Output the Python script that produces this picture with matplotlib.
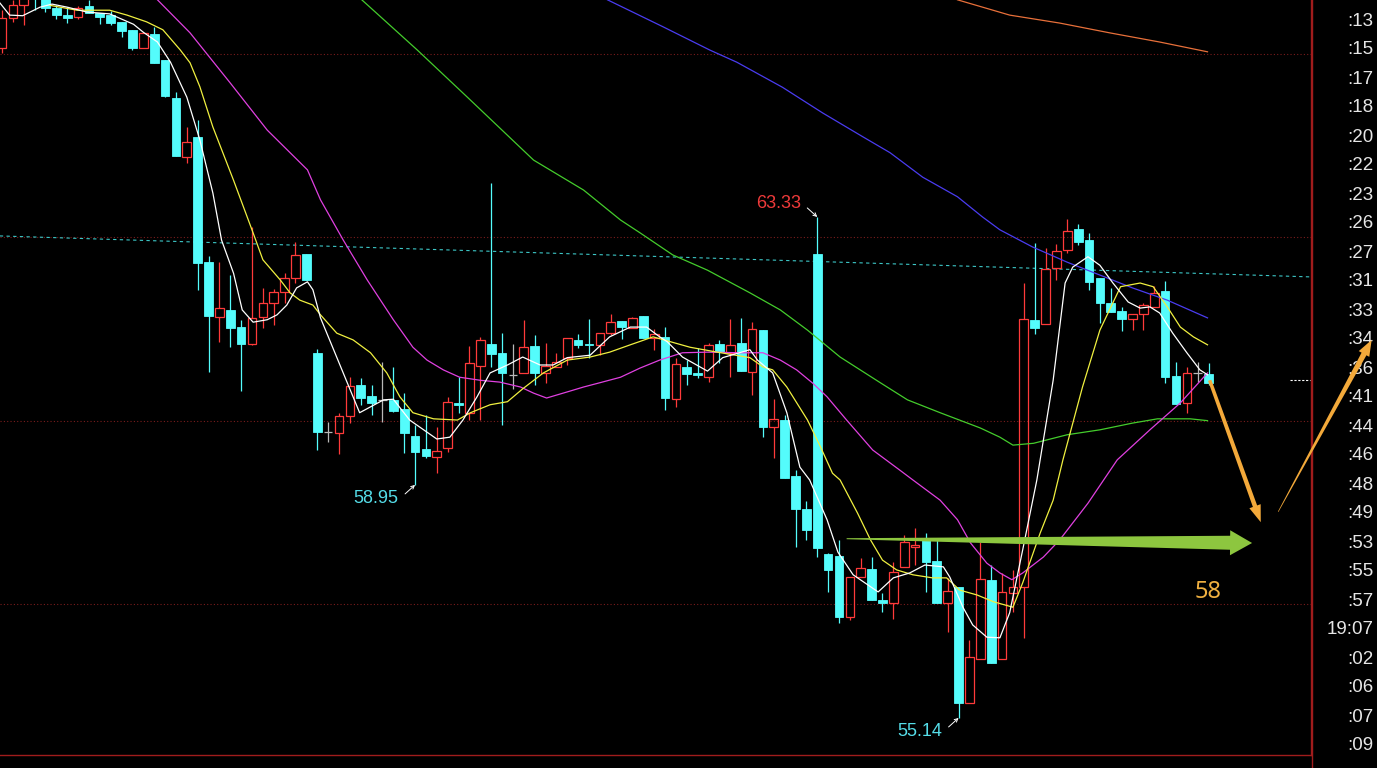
import numpy as np
import matplotlib
matplotlib.use("Agg")
import matplotlib.pyplot as plt
from matplotlib.patches import Rectangle, Polygon
from matplotlib.transforms import IdentityTransform

# ---------------- data ----------------
opens = [66.09, 66.58, 66.79, 67.29, 66.91, 66.75, 66.63, 66.60, 66.78, 66.66,
         66.63, 66.52, 66.39, 66.09, 66.32, 65.90, 65.28, 64.31, 64.64, 62.59,
         61.69, 61.81, 61.53, 61.25, 61.69, 61.93, 62.10, 62.33, 62.73, 61.11,
         59.81, 59.80, 60.08, 60.58, 60.40, 60.34, 60.34, 60.19, 59.75, 59.54,
         59.41, 59.55, 60.29, 60.13, 60.89, 61.25, 61.11, 60.75, 60.78, 61.22,
         60.78, 60.88, 61.03, 61.32, 61.25, 61.24, 61.43, 61.63, 61.52, 61.71,
         61.35, 61.37, 60.35, 60.88, 60.78, 60.71, 61.25, 61.11, 61.27, 60.80,
         61.48, 59.90, 60.01, 59.10, 58.56, 62.73, 57.82, 57.79, 56.79, 57.44,
         57.58, 57.07, 57.02, 57.61, 57.93, 58.05, 57.71, 57.02, 57.28, 55.38,
         56.11, 57.39, 56.11, 57.18, 57.28, 61.65, 61.58, 62.50, 62.79, 63.13,
         62.95, 62.33, 61.93, 61.79, 61.66, 61.74, 61.86, 62.12, 60.73, 60.29,
         60.78, 60.76]
highs = [66.71, 66.88, 66.96, 67.33, 66.94, 66.79, 66.76, 66.78, 66.88, 66.66,
         66.70, 66.52, 66.39, 66.34, 66.44, 65.90, 65.37, 64.80, 64.92, 62.69,
         62.59, 62.38, 61.65, 63.17, 62.17, 62.15, 62.41, 62.92, 62.73, 61.17,
         59.98, 60.13, 60.71, 60.70, 60.58, 60.96, 60.88, 60.45, 59.93, 60.09,
         59.90, 60.39, 60.71, 61.22, 61.37, 63.89, 61.43, 61.25, 61.65, 61.40,
         61.27, 61.11, 61.35, 61.42, 61.66, 61.43, 61.74, 61.63, 61.69, 61.71,
         61.50, 61.53, 61.03, 60.99, 61.19, 61.27, 61.32, 61.66, 61.68, 61.61,
         61.48, 60.35, 60.09, 59.19, 58.69, 63.33, 57.84, 58.05, 57.44, 57.75,
         57.77, 57.18, 57.69, 58.13, 58.25, 58.16, 58.05, 57.43, 57.28, 56.41,
         58.02, 57.64, 57.51, 57.56, 62.25, 62.90, 62.82, 62.89, 63.30, 63.22,
         63.07, 62.33, 62.17, 61.86, 61.74, 61.93, 62.20, 62.28, 60.96, 60.88,
         60.96, 60.94]
lows = [66.01, 66.52, 66.47, 66.71, 66.68, 66.57, 66.50, 66.57, 66.66, 66.48,
        66.47, 66.27, 66.06, 66.09, 65.85, 65.29, 64.33, 64.21, 62.14, 60.79,
        61.29, 61.20, 60.49, 61.24, 61.52, 61.56, 61.93, 62.25, 62.30, 59.52,
        59.65, 59.45, 59.96, 60.26, 60.09, 59.98, 60.14, 59.47, 58.95, 59.39,
        59.14, 59.49, 60.13, 60.01, 60.01, 60.88, 59.93, 60.52, 60.78, 60.58,
        60.62, 60.88, 60.91, 61.19, 61.03, 61.07, 61.40, 61.34, 61.52, 61.35,
        61.16, 60.17, 60.22, 60.58, 60.70, 60.63, 60.94, 60.71, 60.81, 60.42,
        59.73, 59.39, 59.06, 57.93, 58.05, 57.77, 57.20, 56.69, 56.74, 57.44,
        57.07, 56.87, 56.76, 57.61, 57.64, 57.20, 57.02, 56.54, 55.14, 55.38,
        56.11, 56.04, 56.11, 56.87, 56.45, 61.42, 61.58, 62.30, 62.74, 62.87,
        62.14, 61.60, 61.78, 61.47, 61.48, 61.48, 61.86, 60.62, 60.27, 60.13,
        60.63, 60.58]
closes = [66.58, 66.79, 66.93, 66.89, 66.75, 66.63, 66.59, 66.75, 66.66, 66.60,
          66.50, 66.37, 66.09, 66.34, 65.85, 65.31, 64.33, 64.56, 62.58, 61.71,
          61.84, 61.52, 61.25, 61.68, 61.93, 62.10, 62.34, 62.71, 62.30, 59.81,
          59.81, 60.08, 60.57, 60.37, 60.29, 60.34, 60.16, 59.80, 59.49, 59.42,
          59.50, 60.31, 60.26, 60.94, 61.32, 61.09, 60.78, 60.75, 61.20, 60.78,
          60.89, 60.96, 61.35, 61.24, 61.23, 61.43, 61.61, 61.53, 61.68, 61.35,
          61.42, 60.37, 60.93, 60.76, 60.75, 61.24, 61.12, 61.24, 60.81, 61.50,
          59.90, 60.03, 59.06, 58.56, 58.21, 57.92, 57.56, 56.79, 57.44, 57.59,
          57.07, 57.02, 57.53, 58.02, 57.97, 57.69, 57.02, 57.21, 55.38, 56.14,
          57.41, 56.04, 57.20, 57.28, 61.66, 61.52, 62.48, 62.77, 63.10, 62.92,
          62.27, 61.93, 61.78, 61.66, 61.74, 61.89, 62.09, 60.71, 60.27, 60.78,
          60.78, 60.62]

# moving-average lines, sampled as (bar position, price)
ma_white = [(-0.2, 66.83), (0.7, 66.63), (1.9, 66.62), (3.5, 66.76), (4.6, 66.81), (6.0, 66.76),
            (7.8, 66.68), (9.9, 66.65), (12.1, 66.48), (13.0, 66.35), (14.3, 66.19), (15.5, 65.86),
            (17.0, 65.29), (18.2, 64.59), (19.4, 63.72), (20.2, 62.95), (21.3, 62.41), (22.1, 61.81),
            (23.1, 61.61), (24.4, 61.65), (25.3, 61.73), (26.2, 61.89), (27.1, 62.17), (28.1, 62.27),
            (28.6, 62.14), (29.3, 61.68), (32.9, 60.13), (35.1, 60.34), (36.0, 60.35), (37.5, 60.01),
            (40.0, 59.70), (41.2, 59.73), (42.4, 60.01), (43.7, 60.39), (44.9, 60.78), (46.5, 60.91),
            (47.9, 61.04), (49.5, 60.91), (50.7, 60.91), (52.0, 61.03), (54.1, 61.07), (55.9, 61.37),
            (57.8, 61.53), (59.3, 61.53), (60.5, 61.37), (61.2, 61.29), (62.6, 61.04), (64.9, 60.81),
            (66.3, 61.03), (68.8, 61.16), (69.5, 60.99), (70.9, 60.78), (72.2, 60.13), (73.4, 59.24),
            (74.3, 59.03), (75.9, 58.38), (76.9, 57.85), (78.3, 57.48), (80.6, 57.20), (82.0, 57.43),
            (83.5, 57.51), (84.9, 57.64), (86.6, 57.61), (87.2, 57.44), (88.4, 56.95), (89.3, 56.66),
            (90.6, 56.46), (91.8, 56.45), (92.7, 56.86), (93.9, 57.89), (95.2, 59.03), (96.7, 60.66),
            (97.8, 62.25), (98.5, 62.51), (99.9, 62.68), (101.0, 62.54), (102.2, 62.25), (103.6, 61.94),
            (104.7, 61.84), (105.6, 61.86), (106.5, 61.76), (107.7, 61.43), (109.0, 61.11),
            (110.2, 60.83), (110.9, 60.75)]
ma_yellow = [(4.4, 66.79), (6.9, 66.71), (9.9, 66.71), (11.5, 66.63), (13.3, 66.52), (14.8, 66.39),
             (16.4, 66.06), (17.3, 65.85), (18.2, 65.46), (19.4, 64.80), (21.3, 63.93), (23.1, 63.07),
             (24.0, 62.63), (25.6, 62.30), (26.5, 62.09), (27.4, 61.97), (28.6, 61.89), (29.3, 61.73),
             (30.8, 61.43), (32.3, 61.32), (33.9, 61.11), (35.4, 60.78), (36.6, 60.39), (37.8, 60.13),
             (39.7, 60.03), (41.9, 60.01), (43.1, 60.13), (44.9, 60.26), (46.5, 60.31), (47.9, 60.52),
             (49.8, 60.78), (52.0, 60.99), (54.1, 61.04), (55.9, 61.12), (57.8, 61.24), (59.9, 61.37),
             (60.5, 61.34), (63.3, 61.20), (65.8, 61.12), (68.8, 61.03), (70.0, 60.88), (70.9, 60.83),
             (72.2, 60.55), (74.1, 60.01), (75.3, 59.57), (76.4, 59.14), (77.1, 59.03), (78.7, 58.49),
             (79.9, 58.05), (81.0, 57.72), (82.3, 57.56), (83.8, 57.48), (85.6, 57.43), (86.9, 57.43),
             (88.1, 57.23), (89.7, 57.15), (91.2, 57.04), (93.0, 56.95), (93.9, 57.35), (95.5, 58.16),
             (96.7, 58.70), (97.6, 59.36), (99.4, 60.55), (101.0, 61.48), (102.9, 62.19), (104.7, 62.25),
             (105.9, 62.19), (107.2, 61.86), (108.4, 61.53), (109.6, 61.37), (110.9, 61.24)]
ma_magenta = [(14.3, 66.88), (17.3, 66.34), (21.0, 65.52), (24.4, 64.75), (28.1, 64.10), (29.3, 63.61),
              (31.4, 62.95), (33.6, 62.30), (36.0, 61.65), (37.8, 61.20), (39.1, 60.99), (40.6, 60.83),
              (42.1, 60.71), (44.0, 60.66), (45.8, 60.63), (47.7, 60.55), (48.9, 60.45), (50.1, 60.37),
              (52.0, 60.47), (53.5, 60.55), (55.0, 60.62), (56.9, 60.71), (58.7, 60.86), (60.5, 60.99),
              (62.6, 61.11), (64.9, 61.12), (67.9, 61.11), (70.0, 61.11), (71.6, 60.99), (73.1, 60.83),
              (74.6, 60.61), (75.9, 60.39), (77.7, 60.01), (80.1, 59.52), (82.6, 59.19), (83.8, 59.03),
              (86.3, 58.70), (87.9, 58.38), (89.1, 58.00), (90.6, 57.67), (91.8, 57.51), (92.9, 57.40),
              (93.9, 57.51), (95.8, 57.77), (97.3, 58.05), (99.9, 58.65), (102.6, 59.36), (105.6, 59.85),
              (108.4, 60.29), (110.9, 60.78)]
ma_green = [(33.1, 66.88), (38.2, 66.06), (42.8, 65.29), (48.9, 64.26), (53.5, 63.77), (56.9, 63.28),
            (58.7, 63.07), (61.7, 62.71), (64.9, 62.46), (68.8, 62.09), (71.6, 61.81), (74.1, 61.48),
            (77.1, 61.04), (80.8, 60.62), (83.3, 60.34), (86.3, 60.13), (90.0, 59.88), (91.8, 59.73),
            (93.0, 59.60), (94.9, 59.63), (98.0, 59.77), (101.0, 59.85), (104.0, 59.96), (106.3, 60.03),
            (109.3, 60.03), (110.9, 60.00)]
ma_blue = [(55.7, 66.88), (60.8, 66.44), (65.1, 66.06), (67.6, 65.86), (71.8, 65.45), (75.5, 65.03),
           (79.2, 64.64), (81.7, 64.38), (84.7, 63.98), (87.9, 63.66), (90.2, 63.33), (91.8, 63.12),
           (94.8, 62.84), (98.0, 62.59), (101.0, 62.38), (104.0, 62.17), (107.2, 61.97), (110.9, 61.68)]
ma_orange = [(87.9, 66.88), (92.7, 66.63), (97.3, 66.50), (101.9, 66.34), (106.5, 66.19), (110.9, 66.03)]

grid_levels = [57, 60, 63, 66]
trend_line = [(-0.2, 63.02), (120.4, 62.35)]
current_price = 60.66
target_price = 58.0
green_arrow = [(77.7, 58.07), (115.0, target_price)]
down_arrow = [(111.1, 60.66), (115.8, 58.34)]
up_arrow = [(117.4, 58.51), (126.0, 61.32)]
marks = [(75, "high"), (38, "low"), (88, "low")]
times = [":13", ":15", ":17", ":18", ":20", ":22", ":23", ":26", ":27", ":31", ":33", ":34", ":36",
         ":41", ":44", ":46", ":48", ":49", ":53", ":55", ":57", "19:07", ":02", ":06", ":07", ":09"]

# ---------------- style ----------------
UP = "#ff3a3a"
DOWN = "#54fcfc"
FLAT = "#b8b8b8"
ORANGE = "#f3a93a"
GREEN_ARROW = "#8dc63f"
NUM_FONT = ["Liberation Sans", "DejaVu Sans"]

W, H = 1377, 768
fig = plt.figure(figsize=(W / 100, H / 100), dpi=100, facecolor="black")
ax = fig.add_axes([0, 13 / H, 1311 / W, 755 / H])
ax.set_facecolor("black")
ax.set_xlim(-0.184, 120.42)
ax.set_ylim(54.534, 66.877)
ax.set_xticks([])
ax.set_yticks([])
for s in ("top", "left"):
    ax.spines[s].set_visible(False)
for s in ("right", "bottom"):
    ax.spines[s].set_color("#a01c1c")
    ax.spines[s].set_linewidth(1.0)
fig.add_artist(plt.Line2D([1311.5 / W, 1311.5 / W], [0, 1], color="#a01c1c", lw=1.0))

for g in grid_levels:
    ax.axhline(g, color="#7a1c1c", lw=0.8, ls=(0, (1, 2)), zorder=1)

tx, ty = zip(*trend_line)
ax.plot(tx, ty, color="#3cc6c6", lw=0.8, ls=(0, (3, 3)), zorder=1)

# candles
w = 0.8
for i, (o, h, l, c) in enumerate(zip(opens, highs, lows, closes)):
    if c > o:
        ax.add_patch(Rectangle((i - w / 2, o), w, c - o, fill=False, ec=UP, lw=0.9, zorder=3))
        ax.vlines(i, c, h, color=UP, lw=0.9, zorder=3)
        ax.vlines(i, l, o, color=UP, lw=0.9, zorder=3)
    elif c < o:
        ax.vlines(i, l, h, color=DOWN, lw=0.9, zorder=3)
        ax.add_patch(Rectangle((i - w / 2, c), w, o - c, fc=DOWN, ec=DOWN, lw=0.6, zorder=3))
    else:
        ax.vlines(i, l, h, color=FLAT, lw=0.9, zorder=3)
        ax.hlines(o, i - w / 2, i + w / 2, color=FLAT, lw=0.9, zorder=3)

# moving averages
for pts, col in [(ma_orange, "#e8703a"), (ma_blue, "#4a3cf0"), (ma_green, "#44cc2c"),
                 (ma_magenta, "#e040e0"), (ma_yellow, "#f0f040"), (ma_white, "#ffffff")]:
    xs, ys = zip(*pts)
    ax.plot(xs, ys, color=col, lw=0.9, zorder=4, solid_joinstyle="round")

# current price marker
ax.plot([118.5, 120.3], [current_price, current_price], color="white", lw=0.8,
        ls=(0, (2, 1.5)), zorder=4)

# high / low marks
for idx, kind in marks:
    if kind == "high":
        val, col, sgn = highs[idx], "#ee3a3a", 1
    else:
        val, col, sgn = lows[idx], "#55dde8", -1
    ax.annotate("", xy=(idx, val), xytext=(-7.2, sgn * 6.5), textcoords="offset points",
                arrowprops=dict(arrowstyle="->", color="white", lw=0.7, shrinkA=0, shrinkB=0,
                                mutation_scale=6), zorder=6)
    ax.annotate(f"{val:.2f}", xy=(idx, val), xytext=(-28, sgn * 9.5), textcoords="offset points",
                ha="center", va="center", color=col, fontsize=13, family=NUM_FONT, zorder=6)


def tapered_arrow(p0, p1, w0, w1, hw, hl, color):
    a = ax.transData.transform(p0)
    b = ax.transData.transform(p1)
    d = b - a
    u = d / np.hypot(*d)
    n = np.array([-u[1], u[0]])
    base = b - u * hl
    pts = [a + n * w0 / 2, base + n * w1 / 2, base + n * hw / 2, b,
           base - n * hw / 2, base - n * w1 / 2, a - n * w0 / 2]
    fig.add_artist(Polygon(pts, closed=True, transform=IdentityTransform(), fc=color,
                           ec="none", clip_on=False, zorder=10))


tapered_arrow(green_arrow[0], green_arrow[1], 1.0, 14, 25, 22, GREEN_ARROW)
tapered_arrow(down_arrow[0], down_arrow[1], 3.5, 4.5, 12, 17, ORANGE)
tapered_arrow(up_arrow[0], up_arrow[1], 0.6, 5.5, 12, 16, ORANGE)

ax.annotate(f"{target_price:.0f}", xy=(110.9, target_price), xytext=(0, -35), textcoords="offset points",
            ha="center", va="center", color="#f0b040", fontsize=17,
            family=["Noto Sans", "DejaVu Sans"], zorder=6)

# right-hand time column
ys_px = np.linspace(21, 746, len(times))
for lab, ypx in zip(times, ys_px):
    fig.text(1373.5 / W, 1 - ypx / H, lab, ha="right", va="center", color="#e6e6e6",
             fontsize=13.5, family=NUM_FONT, zorder=5)

fig.savefig("out.png", dpi=100, facecolor="black")
